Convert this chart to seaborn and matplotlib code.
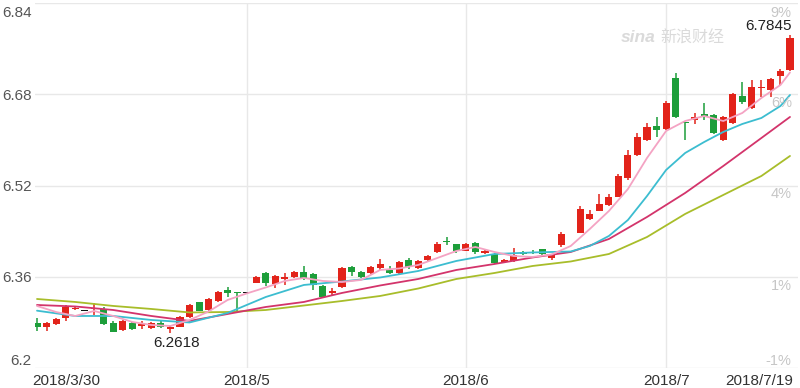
import numpy as np
import pandas as pd
import matplotlib
matplotlib.use("Agg")
import matplotlib.pyplot as plt
import matplotlib.transforms as mtrans
import seaborn as sns

# ---------------- data ----------------
dates = pd.bdate_range("2018-03-30", "2018-07-19")

opens = [6.2795, 6.2714, 6.2772, 6.2872, 6.3026, 6.3005, 6.3038, 6.3030, 6.2784, 6.2667,
         6.2795, 6.2737, 6.2697, 6.2784, 6.2679, 6.2725, 6.2900, 6.3149, 6.3009, 6.3175,
         6.3359, 6.3324, 6.3321, 6.3496, 6.3661, 6.3473, 6.3556, 6.3591, 6.3689, 6.3649,
         6.3438, 6.3307, 6.3416, 6.3766, 6.3689, 6.3661, 6.3749, 6.3719, 6.3661, 6.3894,
         6.3749, 6.3894, 6.4040, 6.4227, 6.4175, 6.4057, 6.4197, 6.4022, 6.3994, 6.3859,
         6.3877, 6.4040, 6.4040, 6.4082, 6.3924, 6.4157, 6.4376, 6.4373, 6.4608, 6.4759,
         6.4859, 6.5004, 6.5327, 6.5735, 6.5998, 6.6244, 6.6186, 6.7080, 6.6314, 6.6349,
         6.6454, 6.6437, 6.5998, 6.6291, 6.6770, 6.6554, 6.6910, 6.6875, 6.7120, 6.7226]
highs = [6.2882, 6.2807, 6.2877, 6.3105, 6.3079, 6.3005, 6.3140, 6.3070, 6.2830, 6.2842,
         6.2807, 6.2825, 6.2798, 6.2825, 6.2754, 6.2912, 6.3123, 6.3165, 6.3228, 6.3342,
         6.3426, 6.3333, 6.3321, 6.3614, 6.3689, 6.3622, 6.3672, 6.3693, 6.3789, 6.3666,
         6.3456, 6.3394, 6.3771, 6.3780, 6.3701, 6.3789, 6.3906, 6.3789, 6.3877, 6.3924,
         6.3894, 6.3982, 6.4215, 6.4303, 6.4183, 6.4192, 6.4210, 6.4087, 6.4008, 6.3912,
         6.4099, 6.4052, 6.4069, 6.4087, 6.3999, 6.4390, 6.4376, 6.4841, 6.4771, 6.5046,
         6.5046, 6.5393, 6.5823, 6.6126, 6.6302, 6.6396, 6.6682, 6.7168, 6.6322, 6.6466,
         6.6642, 6.6454, 6.6410, 6.6822, 6.7021, 6.7050, 6.7050, 6.7085, 6.7243, 6.7845]
lows = [6.2640, 6.2654, 6.2746, 6.2830, 6.3017, 6.3005, 6.2930, 6.2754, 6.2625, 6.2654,
        6.2667, 6.2684, 6.2684, 6.2702, 6.2618, 6.2711, 6.2877, 6.2991, 6.2999, 6.3158,
        6.3251, 6.3005, 6.3321, 6.3482, 6.3438, 6.3398, 6.3456, 6.3579, 6.3544, 6.3368,
        6.3237, 6.3281, 6.3403, 6.3614, 6.3579, 6.3649, 6.3719, 6.3649, 6.3649, 6.3731,
        6.3736, 6.3877, 6.4022, 6.4157, 6.4017, 6.4043, 6.3999, 6.3999, 6.3824, 6.3841,
        6.3859, 6.3982, 6.3999, 6.3982, 6.3894, 6.4127, 6.4376, 6.4362, 6.4595, 6.4745,
        6.4841, 6.4990, 6.5296, 6.5718, 6.5980, 6.6046, 6.6174, 6.6375, 6.5998, 6.6279,
        6.6349, 6.6103, 6.5980, 6.6279, 6.6629, 6.6542, 6.6747, 6.6757, 6.6963, 6.7208]
closes = [6.2714, 6.2784, 6.2854, 6.3065, 6.3052, 6.3005, 6.3049, 6.2772, 6.2637, 6.2830,
          6.2679, 6.2772, 6.2784, 6.2714, 6.2725, 6.2890, 6.3105, 6.3005, 6.3210, 6.3324,
          6.3315, 6.3315, 6.3321, 6.3601, 6.3486, 6.3605, 6.3591, 6.3675, 6.3556, 6.3456,
          6.3251, 6.3342, 6.3749, 6.3689, 6.3591, 6.3777, 6.3824, 6.3672, 6.3864, 6.3766,
          6.3882, 6.3964, 6.4175, 6.4201, 6.4057, 6.4175, 6.4040, 6.4057, 6.3836, 6.3885,
          6.3982, 6.3999, 6.4012, 6.3999, 6.3982, 6.4350, 6.4376, 6.4783, 6.4701, 6.4876,
          6.5004, 6.5367, 6.5735, 6.6056, 6.6231, 6.6174, 6.6642, 6.6396, 6.6296, 6.6402,
          6.6407, 6.6116, 6.6396, 6.6805, 6.6670, 6.6922, 6.6928, 6.7063, 6.7213, 6.7781]

# moving-average lines (index of trading day, value)
ma5_idx = [0, 2, 4, 6, 8, 10, 12, 14, 16, 18, 20, 22, 24, 26, 28, 30, 32, 34, 36, 38,
           40, 42, 44, 46, 48, 50, 52, 54, 56, 58, 60, 62, 64, 66, 68, 70, 72, 74, 76, 78, 79]
ma5 = [6.3088, 6.2982, 6.2912, 6.3000, 6.2912, 6.2807, 6.2754, 6.2737, 6.2842, 6.2991,
       6.3193, 6.3307, 6.3412, 6.3526, 6.3579, 6.3526, 6.3508, 6.3544, 6.3719, 6.3745,
       6.3807, 6.3929, 6.4052, 6.4122, 6.4034, 6.3964, 6.3947, 6.3991, 6.4140, 6.4438,
       6.4753, 6.5139, 6.5683, 6.6156, 6.6331, 6.6419, 6.6331, 6.6472, 6.6735, 6.6963, 6.7182]
ma10_idx = [0, 4, 8, 12, 16, 20, 24, 28, 32, 36, 40, 44, 48, 52, 56, 58, 60, 62, 64, 66,
            68, 70, 72, 74, 76, 78, 79]
ma10 = [6.3005, 6.2912, 6.2912, 6.2842, 6.2798, 6.2965, 6.3245, 6.3456, 6.3517, 6.3587,
        6.3701, 6.3877, 6.3999, 6.4026, 6.4043, 6.4140, 6.4315, 6.4596, 6.5016, 6.5472,
        6.5770, 6.5963, 6.6139, 6.6279, 6.6384, 6.6594, 6.6787]
ma20_idx = [0, 4, 8, 12, 16, 20, 24, 28, 32, 36, 40, 44, 48, 52, 56, 60, 64, 68, 72, 76, 79]
ma20 = [6.3105, 6.3079, 6.3017, 6.2912, 6.2825, 6.2947, 6.3070, 6.3158, 6.3316, 6.3447,
        6.3561, 6.3719, 6.3824, 6.3938, 6.4034, 6.4262, 6.4648, 6.5069, 6.5542, 6.6033, 6.6402]
ma30_idx = [0, 4, 8, 12, 16, 20, 24, 28, 32, 36, 40, 44, 48, 52, 56, 60, 64, 68, 72, 76, 79]
ma30 = [6.3210, 6.3158, 6.3088, 6.3035, 6.2974, 6.2982, 6.3017, 6.3096, 6.3175, 6.3263,
        6.3394, 6.3561, 6.3666, 6.3789, 6.3868, 6.3999, 6.4297, 6.4701, 6.5034, 6.5367, 6.5718]

tick_dates = ["2018-03-30", "2018-05-01", "2018-06-01", "2018-07-02", "2018-07-19"]
tick_labels = ["2018/3/30", "2018/5", "2018/6", "2018/7", "2018/7/19"]
month_dates = ["2018-05-01", "2018-06-01", "2018-07-02"]
y_ticks = [6.2, 6.36, 6.52, 6.68, 6.84]
y_ticklabels = ["6.2", "6.36", "6.52", "6.68", "6.84"]
pct_labels = ["-1%", "1%", "4%", "6%", "9%"]
min_label, max_label = "6.2618", "6.7845"

# ---------------- style ----------------
sns.set_theme(style="white")
plt.rcParams['font.family'] = ['Liberation Sans', 'DejaVu Sans']

RED = "#e2231a"
GREEN = "#1d9e3a"
GRID = "#e8e8e8"

fig = plt.figure(figsize=(8, 3.88), dpi=100)
ax = fig.add_axes([35 / 800, 20 / 388, 763 / 800, 365 / 388])

pos = {d: i for i, d in enumerate(dates.strftime("%Y-%m-%d"))}
x = np.arange(len(dates))
df = pd.DataFrame(dict(x=x, open=opens, high=highs, low=lows, close=closes))
df["color"] = np.where(df.close > df.open, RED, np.where(df.close < df.open, GREEN, "#111111"))
df["bottom"] = df[["open", "close"]].min(axis=1)
df["height"] = (df.close - df.open).abs().clip(lower=0.0013)

# grid
ax.set_ylim(6.2, 6.84)
ax.set_xlim(-0.21, 79.84)
ax.set_yticks(y_ticks)
ax.set_yticklabels(y_ticklabels)
ax.yaxis.grid(True, color=GRID, lw=1, zorder=0)
ax.xaxis.grid(False)
for d in month_dates:
    ax.axvline(pos[d], color=GRID, lw=1, zorder=0)
for s in ax.spines.values():
    s.set_visible(False)

# candles
ax.vlines(df.x, df.low, df.high, colors=df.color, lw=1.1, zorder=2)
ax.bar(df.x, df.height, bottom=df.bottom, width=0.74, color=df.color, lw=0, zorder=2)

# moving averages
for idx, vals, col in [(ma30_idx, ma30, "#a8bd2a"), (ma20_idx, ma20, "#d3346b"),
                       (ma10_idx, ma10, "#3cbdd0"), (ma5_idx, ma5, "#f4a3c3")]:
    sns.lineplot(x=idx, y=vals, color=col, lw=1.3, ax=ax, estimator=None, sort=False, zorder=3)
ax.set_xlabel("")
ax.set_ylabel("")

# ticks / labels
ax.tick_params(axis="both", length=0)
ax.tick_params(axis="y", pad=2.5, labelsize=11, labelcolor="#555555")
ax.tick_params(axis="x", pad=4, labelsize=11, labelcolor="#333333")
ax.set_xticks([pos[d] for d in tick_dates])
ax.set_xticklabels(tick_labels)
xl = ax.get_xticklabels()
xl[0].set_ha("left")
xl[0].set_transform(xl[0].get_transform() + mtrans.ScaledTranslation(-5 / 100, 0, fig.dpi_scale_trans))
xl[-1].set_ha("right")
xl[-1].set_transform(xl[-1].get_transform() + mtrans.ScaledTranslation(3 / 100, 0, fig.dpi_scale_trans))
yl = ax.get_yticklabels()
yl[0].set_va("bottom")
yl[-1].set_va("top")
yl[-1].set_transform(yl[-1].get_transform() + mtrans.ScaledTranslation(0, -3 / 100, fig.dpi_scale_trans))

# right-side percentage labels
offs = [5.3, -7.0, -5.8, -6.3, -7.2]
for v, lab, o in zip(y_ticks, pct_labels, offs):
    ax.annotate(lab, xy=(1, v), xycoords=ax.get_yaxis_transform(), xytext=(-4.5, o),
                textcoords="offset points", ha="right", va="center", fontsize=10.5, color="#c6c6c6")

# min / max annotations
imin = int(np.argmin(lows))
imax = int(np.argmax(highs))
ax.annotate(min_label, xy=(imin, lows[imin]), xytext=(4.5, -7.7), textcoords="offset points",
            ha="center", va="center", fontsize=11, color="#222222", zorder=5)
ax.annotate(max_label, xy=(imax, highs[imax]), xytext=(1.5, 6.3), textcoords="offset points",
            ha="right", va="center", fontsize=11, color="#222222", zorder=5)

# watermark
ax.text(0.768, 0.905, "sina", transform=ax.transAxes, fontsize=12.5, fontstyle="italic",
        fontweight="bold", color="#dadada", ha="left", va="center", zorder=1)
ax.text(0.820, 0.905, "新浪财经", transform=ax.transAxes, fontsize=11.5, color="#dadada",
        ha="left", va="center", family=["Noto Sans CJK SC", "DejaVu Sans"], zorder=1)

fig.savefig("out.png", dpi=100)
